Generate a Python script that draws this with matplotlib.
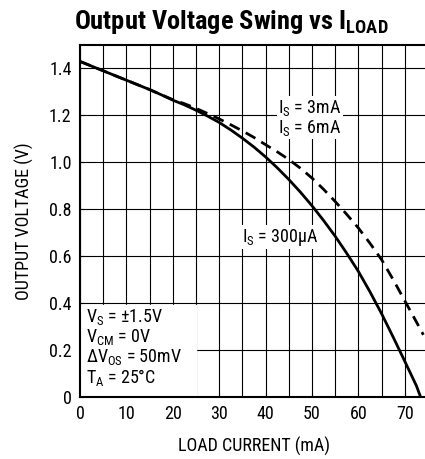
import matplotlib.pyplot as plt
from matplotlib.ticker import MultipleLocator
import numpy as np

plt.rcParams['font.family'] = ['Roboto Condensed', 'Archivo Narrow', 'PT Sans Narrow', 'DejaVu Sans']
plt.rcParams['mathtext.fontset'] = 'custom'
plt.rcParams['mathtext.rm'] = 'Roboto Condensed'
plt.rcParams['mathtext.bf'] = 'Roboto Condensed:bold'

# load current (mA) vs output voltage (V)
i_300uA = [0, 2.5, 5, 7.5, 10, 12.5, 15, 17.5, 20, 22.5, 25, 27.5, 30, 32.5, 35, 37.5, 40,
           42.5, 45, 47.5, 50, 52.5, 55, 57.5, 60, 62.5, 65, 67.5, 70, 72.5, 73.4]
v_300uA = [1.43, 1.41, 1.39, 1.37, 1.35, 1.33, 1.31, 1.288, 1.265, 1.245, 1.222, 1.197, 1.17,
           1.138, 1.103, 1.065, 1.023, 0.977, 0.927, 0.873, 0.815, 0.752, 0.685, 0.612, 0.535,
           0.448, 0.355, 0.255, 0.152, 0.048, 0.0]

i_3mA = [0, 5, 10, 15, 20, 22.5, 25, 27.5, 30, 32.5, 35, 37.5, 40, 42.5, 45, 47.5, 50,
         52.5, 55, 57.5, 60, 62.5, 65, 67.5, 70, 72.5, 74]
v_3mA = [1.43, 1.39, 1.35, 1.31, 1.267, 1.25, 1.23, 1.208, 1.185, 1.16, 1.134, 1.106, 1.075,
         1.045, 1.012, 0.975, 0.933, 0.885, 0.833, 0.778, 0.72, 0.655, 0.585, 0.5, 0.41, 0.32, 0.265]

fig = plt.figure(figsize=(4.25, 4.59), dpi=100)
ax = fig.add_axes([80/425, 1-397/459, 348/425, 352/459])

ax.plot(i_300uA, v_300uA, color='black', lw=2.0, zorder=3)
ax.plot(i_3mA, v_3mA, color='black', lw=2.0, dashes=(4, 2.5), zorder=3)

ax.set_xlim(0, 75)
ax.set_ylim(0, 1.5)
ax.xaxis.set_major_locator(MultipleLocator(10))
ax.xaxis.set_minor_locator(MultipleLocator(5))
ax.set_yticks(np.arange(0, 1.41, 0.2))
ax.set_yticklabels(['0', '0.2', '0.4', '0.6', '0.8', '1.0', '1.2', '1.4'])
ax.grid(which='both', axis='x', color='black', lw=0.8)
ax.grid(which='major', axis='y', color='black', lw=0.8)
ax.tick_params(which='both', direction='in', labelsize=13, length=3, pad=6)
for s in ax.spines.values():
    s.set_linewidth(1.5)

ax.set_xlabel('LOAD CURRENT (mA)', fontsize=13, labelpad=10)
ax.set_ylabel('OUTPUT VOLTAGE (V)', fontsize=13, labelpad=11)

fig.text(231/425, 1-22/459, r'Output Voltage Swing vs I$_{\mathbf{LOAD}}$', fontsize=19, fontweight='bold',
         ha='center', va='center')

wb = dict(facecolor='white', edgecolor='none', pad=1)
ax.text(49.5, 1.19, 'I$_\\mathregular{S}$ = 3mA\nI$_\\mathregular{S}$ = 6mA', fontsize=13, ha='center',
        va='center', linespacing=1.0, bbox=wb, zorder=4)
ax.text(43.1, 0.68, 'I$_\\mathregular{S}$ = 300µA', fontsize=13, ha='center', va='center', bbox=wb, zorder=4)

ax.fill_between([0.3, 25], 0.01, 0.392, color='white', zorder=2.5)
ax.text(1.3, 0.21, 'V$_\\mathregular{S}$ = ±1.5V\nV$_\\mathregular{CM}$ = 0V\n'
        'ΔV$_\\mathregular{OS}$ = 50mV\nT$_\\mathregular{A}$ = 25°C',
        fontsize=13, ha='left', va='center', linespacing=1.0, zorder=4)

fig.savefig('out.png', dpi=100)
